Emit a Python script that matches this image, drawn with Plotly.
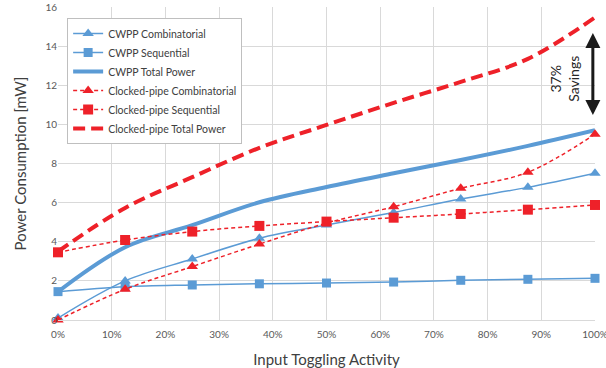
import plotly.graph_objects as go

activity = [0, 0.125, 0.25, 0.375, 0.5, 0.625, 0.75, 0.875, 1.0]

cwpp_comb = [0.1, 2.0, 3.12, 4.18, 4.86, 5.5, 6.19, 6.78, 7.5]
cwpp_seq = [1.45, 1.7, 1.79, 1.85, 1.89, 1.94, 2.03, 2.08, 2.13]
cwpp_total = [1.45, 3.72, 4.85, 6.02, 6.8, 7.5, 8.18, 8.9, 9.7]
cp_comb = [0.0, 1.57, 2.73, 3.88, 4.95, 5.79, 6.73, 7.55, 9.5]
cp_seq = [3.46, 4.09, 4.52, 4.81, 5.03, 5.23, 5.42, 5.64, 5.88]
cp_total = [3.5, 5.73, 7.3, 8.8, 9.97, 11.1, 12.17, 13.35, 15.47]

x_ticks = [0, 0.1, 0.2, 0.3, 0.4, 0.5, 0.6, 0.7, 0.8, 0.9, 1.0]
y_ticks = [0, 2, 4, 6, 8, 10, 12, 14, 16]

BLUE = "#5b9bd5"
RED = "#ee2129"
FONT = "Lato"

fig = go.Figure()

fig.add_trace(go.Scatter(x=activity, y=cwpp_comb, name="CWPP Combinatorial",
                         mode="lines+markers", line=dict(color=BLUE, width=1.5, shape="spline"),
                         marker=dict(symbol="triangle-up", size=10, color=BLUE)))
fig.add_trace(go.Scatter(x=activity, y=cwpp_seq, name="CWPP Sequential",
                         mode="lines+markers", line=dict(color=BLUE, width=1.5, shape="spline"),
                         marker=dict(symbol="square", size=9, color=BLUE)))
fig.add_trace(go.Scatter(x=activity, y=cwpp_total, name="CWPP Total Power",
                         mode="lines", line=dict(color=BLUE, width=4, shape="spline")))
fig.add_trace(go.Scatter(x=activity, y=cp_comb, name="Clocked-pipe Combinatorial",
                         mode="lines+markers", line=dict(color=RED, width=1.5, shape="spline", dash="4px,3px"),
                         marker=dict(symbol="triangle-up", size=10, color=RED)))
fig.add_trace(go.Scatter(x=activity, y=cp_seq, name="Clocked-pipe Sequential",
                         mode="lines+markers", line=dict(color=RED, width=1.5, shape="spline", dash="4px,3px"),
                         marker=dict(symbol="square", size=10, color=RED)))
fig.add_trace(go.Scatter(x=activity, y=cp_total, name="Clocked-pipe Total Power",
                         mode="lines", line=dict(color=RED, width=4, shape="spline", dash="12px,6px")))

fig.update_traces(cliponaxis=False)

fig.add_annotation(x=0.996, y=14.67, ax=0.996, ay=10.4, xref="x", yref="y", axref="x", ayref="y",
                   text="", showarrow=True, arrowhead=2, startarrowhead=2, arrowside="end+start",
                   arrowwidth=3, arrowsize=1, startarrowsize=1, arrowcolor="#1a1a1a")
fig.add_annotation(x=0.943, y=12.35, xref="x", yref="y", text="37%<br>Savings", showarrow=False,
                   textangle=-90, font=dict(family=FONT, size=14, color="#262626"))

fig.update_layout(
    width=606, height=368,
    margin=dict(l=58, r=11, t=7, b=48),
    paper_bgcolor="white", plot_bgcolor="white",
    font=dict(family=FONT, color="#595959"),
    showlegend=True,
    legend=dict(x=0.017, y=0.965, xanchor="left", yanchor="top",
                bgcolor="white", bordercolor="#bfbfbf", borderwidth=1,
                font=dict(family=FONT, size=10.5, color="#404040"),
                itemwidth=30),
    xaxis=dict(range=[0, 1], tickvals=x_ticks, tickformat=".0%", automargin=False,
               ticklabeloverflow="allow", ticklabelstandoff=5,
               showgrid=True, gridcolor="#d9d9d9", gridwidth=1,
               showline=True, linecolor="#d9d9d9", mirror=False, zeroline=False,
               tickfont=dict(size=10, color="#595959"), ticks="",
               title=dict(text="Input Toggling Activity", font=dict(size=15, color="#404040"))),
    yaxis=dict(range=[0, 16], tickvals=y_ticks, automargin=False,
               ticklabeloverflow="allow",
               showgrid=True, gridcolor="#d9d9d9", gridwidth=1, zeroline=False,
               tickfont=dict(size=10, color="#595959"), ticks="",
               title=dict(text="Power Consumption [mW]", font=dict(size=15, color="#404040"))),
)

fig.write_html("out.html", config={"displayModeBar": False},
               post_script="document.body.style.margin='0';document.body.style.overflow='hidden';")
